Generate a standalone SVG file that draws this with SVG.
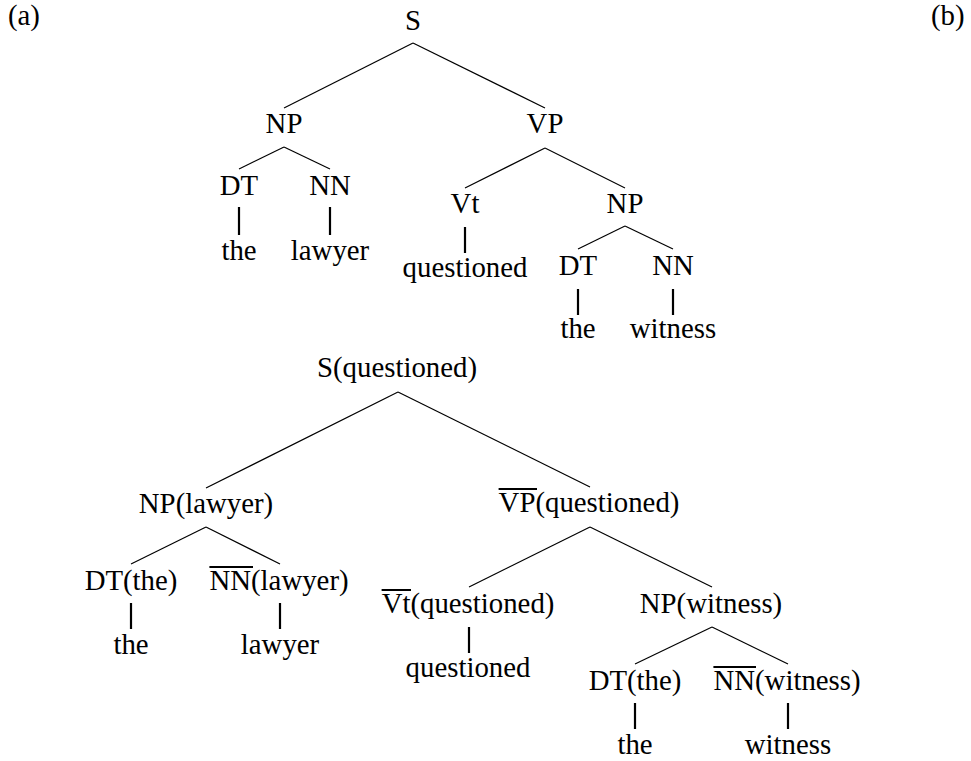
<svg xmlns="http://www.w3.org/2000/svg" width="971" height="761" viewBox="0 0 971 761">
<style>
text{font-family:"Liberation Serif","Times New Roman",serif;font-size:28.8px;fill:#000;text-anchor:middle}
.lbl{text-anchor:start}
.e{stroke:#000;stroke-width:1.2;fill:none}
.u{stroke:#000;stroke-width:2.2;fill:none}
.ov{stroke:#000;stroke-width:2;fill:none}
</style>
<rect width="971" height="761" fill="#fff"/>
<text class="lbl" x="8" y="25">(a)</text>
<text class="lbl" x="931" y="25">(b)</text>
<g id="connectors">
<line class="e" x1="413" y1="43" x2="284" y2="108"/>
<line class="e" x1="413" y1="43" x2="545" y2="108"/>
<line class="e" x1="284" y1="147" x2="239" y2="169"/>
<line class="e" x1="284" y1="147" x2="330" y2="169"/>
<line class="u" x1="239" y1="207" x2="239" y2="235"/>
<line class="u" x1="330" y1="207" x2="330" y2="235"/>
<line class="e" x1="545" y1="148" x2="465" y2="188"/>
<line class="e" x1="545" y1="148" x2="625" y2="188"/>
<line class="u" x1="465" y1="227" x2="465" y2="253"/>
<line class="e" x1="625" y1="226" x2="578" y2="249"/>
<line class="e" x1="625" y1="226" x2="673" y2="249"/>
<line class="u" x1="578" y1="289" x2="578" y2="315"/>
<line class="u" x1="673" y1="289" x2="673" y2="315"/>
<line class="e" x1="398" y1="392" x2="206" y2="488"/>
<line class="e" x1="398" y1="392" x2="590" y2="487"/>
<line class="e" x1="206" y1="527" x2="131" y2="564"/>
<line class="e" x1="206" y1="527" x2="280" y2="564"/>
<line class="u" x1="131" y1="603" x2="131" y2="629"/>
<line class="u" x1="280" y1="603" x2="280" y2="629"/>
<line class="e" x1="590" y1="527" x2="469" y2="587"/>
<line class="e" x1="590" y1="527" x2="712" y2="587"/>
<line class="u" x1="469" y1="627" x2="469" y2="653"/>
<line class="e" x1="712" y1="627" x2="635" y2="664"/>
<line class="e" x1="712" y1="627" x2="788" y2="664"/>
<line class="u" x1="635" y1="703" x2="635" y2="729"/>
<line class="u" x1="788" y1="703" x2="788" y2="729"/>
</g>
<g id="a-S"><text x="413" y="30">S</text></g>
<g id="a-NP"><text x="284" y="133">NP</text></g>
<g id="a-VP"><text x="545" y="133">VP</text></g>
<g id="a-DT1"><text x="239" y="195">DT</text></g>
<g id="a-NN1"><text x="330" y="195">NN</text></g>
<g id="a-the1"><text x="239" y="260">the</text></g>
<g id="a-lawyer"><text x="330" y="260">lawyer</text></g>
<g id="a-Vt"><text x="465" y="213">Vt</text></g>
<g id="a-NP2"><text x="625" y="213">NP</text></g>
<g id="a-questioned"><text x="465" y="277">questioned</text></g>
<g id="a-DT2"><text x="578" y="275">DT</text></g>
<g id="a-NN2"><text x="673" y="275">NN</text></g>
<g id="a-the2"><text x="578" y="338">the</text></g>
<g id="a-witness"><text x="673" y="338">witness</text></g>
<g id="b-S"><text x="397" y="377">S(questioned)</text></g>
<g id="b-NP"><text x="206" y="513">NP(lawyer)</text></g>
<g id="b-VP"><text x="589" y="512">VP(questioned)</text><line class="ov" x1="498.6" y1="489" x2="537" y2="489"/></g>
<g id="b-DT1"><text x="131" y="590">DT(the)</text></g>
<g id="b-NN1"><text x="279" y="590">NN(lawyer)</text><line class="ov" x1="209.4" y1="567" x2="253" y2="567"/></g>
<g id="b-the1"><text x="131" y="654">the</text></g>
<g id="b-lawyer"><text x="280" y="654">lawyer</text></g>
<g id="b-Vt"><text x="468" y="613">Vt(questioned)</text><line class="ov" x1="381.6" y1="590" x2="411" y2="590"/></g>
<g id="b-NP2"><text x="711" y="613">NP(witness)</text></g>
<g id="b-questioned"><text x="468" y="677">questioned</text></g>
<g id="b-DT2"><text x="635" y="690">DT(the)</text></g>
<g id="b-NN2"><text x="787" y="690">NN(witness)</text><line class="ov" x1="713.4" y1="667" x2="756" y2="667"/></g>
<g id="b-the2"><text x="635" y="754">the</text></g>
<g id="b-witness"><text x="788" y="754">witness</text></g>
</svg>
